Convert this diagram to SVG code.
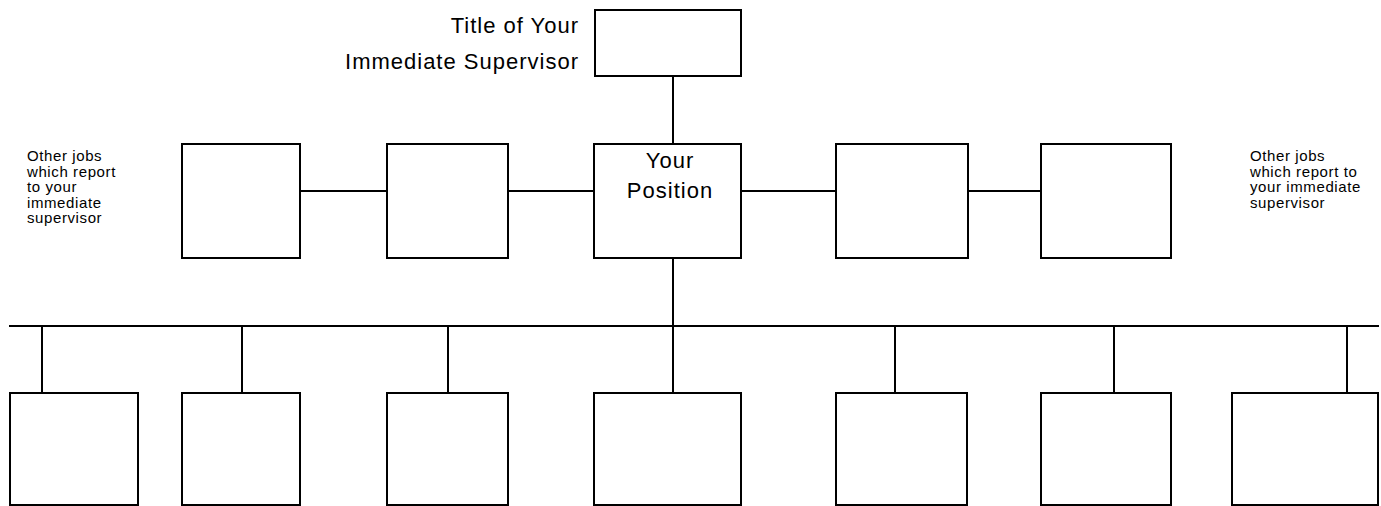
<svg xmlns="http://www.w3.org/2000/svg" width="1381" height="506" viewBox="0 0 1381 506">
<style>
.box{fill:#fff;stroke:#000;stroke-width:2}
.ln{stroke:#000;stroke-width:2;fill:none}
.big{font-family:"Liberation Sans",Arial,sans-serif;font-size:22px;letter-spacing:1px;fill:#000}
.small{font-family:"Liberation Sans",Arial,sans-serif;font-size:15px;letter-spacing:0.6px;fill:#000}
</style>
<rect width="1381" height="506" fill="#fff"/>
<g id="connectors">
<line class="ln" x1="673" y1="76" x2="673" y2="144"/>
<line class="ln" x1="300" y1="191" x2="387" y2="191"/>
<line class="ln" x1="508" y1="191" x2="594" y2="191"/>
<line class="ln" x1="741" y1="191" x2="836" y2="191"/>
<line class="ln" x1="968" y1="191" x2="1041" y2="191"/>
<line class="ln" x1="673" y1="258" x2="673" y2="326"/>
<line class="ln" x1="9" y1="326" x2="1379" y2="326"/>
<line class="ln" x1="42" y1="326" x2="42" y2="393"/>
<line class="ln" x1="242" y1="326" x2="242" y2="393"/>
<line class="ln" x1="448" y1="326" x2="448" y2="393"/>
<line class="ln" x1="673" y1="326" x2="673" y2="393"/>
<line class="ln" x1="895" y1="326" x2="895" y2="393"/>
<line class="ln" x1="1114" y1="326" x2="1114" y2="393"/>
<line class="ln" x1="1347" y1="326" x2="1347" y2="393"/>
</g>
<g id="supervisor">
<rect class="box" x="595" y="10" width="146" height="66"/>
<text class="big" x="579" y="33" text-anchor="end">Title of Your</text>
<text class="big" x="579" y="69" text-anchor="end">Immediate Supervisor</text>
</g>
<g id="peer1"><rect class="box" x="182" y="144" width="118" height="114"/></g>
<g id="peer2"><rect class="box" x="387" y="144" width="121" height="114"/></g>
<g id="your-position">
<rect class="box" x="594" y="144" width="147" height="114"/>
<text class="big" x="670" y="168" text-anchor="middle">Your</text>
<text class="big" x="670" y="198" text-anchor="middle">Position</text>
</g>
<g id="peer3"><rect class="box" x="836" y="144" width="132" height="114"/></g>
<g id="peer4"><rect class="box" x="1041" y="144" width="130" height="114"/></g>
<g id="note-left">
<text class="small" x="27" y="161">Other jobs</text>
<text class="small" x="27" y="176.5">which report</text>
<text class="small" x="27" y="192">to your</text>
<text class="small" x="27" y="207.5">immediate</text>
<text class="small" x="27" y="223">supervisor</text>
</g>
<g id="note-right">
<text class="small" x="1250" y="161">Other jobs</text>
<text class="small" x="1250" y="176.5">which report to</text>
<text class="small" x="1250" y="192">your immediate</text>
<text class="small" x="1250" y="207.5">supervisor</text>
</g>
<g id="sub1"><rect class="box" x="10" y="393" width="128" height="112"/></g>
<g id="sub2"><rect class="box" x="182" y="393" width="118" height="112"/></g>
<g id="sub3"><rect class="box" x="387" y="393" width="121" height="112"/></g>
<g id="sub4"><rect class="box" x="594" y="393" width="147" height="112"/></g>
<g id="sub5"><rect class="box" x="836" y="393" width="131" height="112"/></g>
<g id="sub6"><rect class="box" x="1041" y="393" width="130" height="112"/></g>
<g id="sub7"><rect class="box" x="1232" y="393" width="146" height="112"/></g>
</svg>
